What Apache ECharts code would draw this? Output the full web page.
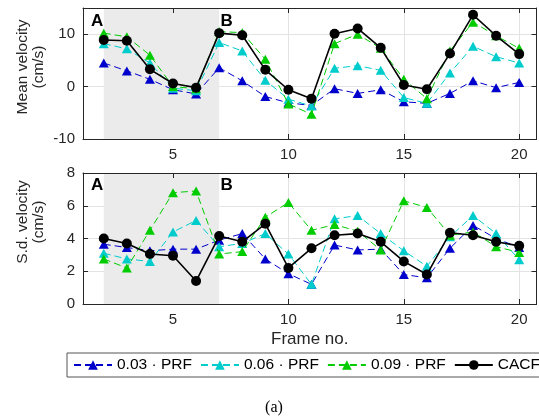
<!DOCTYPE html>
<html><head><meta charset="utf-8">
<script src="https://cdn.jsdelivr.net/npm/echarts@6/dist/echarts.min.js"></script>
<style>html,body{margin:0;padding:0;background:#fff}#c{width:539px;height:419px}</style>
</head><body><div id="c"></div>
<script>
// ---- data ----
const frames = [2,3,4,5,6,7,8,9,10,11,12,13,14,15,16,17,18,19,20];
const meanPRF003 = [4.5,3.0,1.4,-0.6,-1.4,3.6,1.1,-1.9,-3.1,-3.6,-0.4,-1.3,-0.6,-2.9,-3.2,-1.3,1.1,-0.2,0.8];
const meanPRF006 = [8.2,7.2,4.5,-0.3,-0.8,8.4,6.8,1.2,-2.4,-3.7,3.5,4.0,3.1,-2.1,-3.2,2.6,7.7,5.7,4.5];
const meanPRF009 = [10.2,9.5,6.0,0.0,-0.4,10.5,10.3,5.2,-3.3,-5.3,8.2,10.0,7.3,1.4,-2.3,6.8,12.3,9.7,7.3];
const meanCACF   = [8.9,8.75,3.3,0.6,-0.2,10.2,9.8,3.2,-0.6,-2.3,10.1,11.1,7.4,0.3,-0.5,6.3,13.7,9.7,6.2];
const sdPRF003 = [3.65,3.45,3.25,3.35,3.35,3.9,4.3,2.75,1.85,1.2,3.6,3.3,3.35,1.8,1.6,3.4,4.8,4.0,3.45];
const sdPRF006 = [3.1,2.75,2.6,4.4,5.1,3.5,3.7,4.3,3.05,1.2,5.2,5.4,4.3,3.25,2.3,4.1,5.4,4.3,2.7];
const sdPRF009 = [2.75,2.2,4.5,6.8,6.9,3.05,3.2,5.3,6.2,4.5,4.85,4.45,3.3,6.3,5.9,4.2,4.4,3.5,3.15];
const sdCACF   = [4.0,3.7,3.05,2.95,1.4,4.15,3.8,4.9,2.2,3.4,4.2,4.3,3.8,2.6,1.8,4.35,4.2,3.8,3.55];
const seriesNames = ['0.03 \u00B7 PRF','0.06 \u00B7 PRF','0.09 \u00B7 PRF','CACF'];
const xTicks = [5,10,15,20];
const meanTicks = [-10,0,10];
const sdTicks = [0,2,4,6,8];
const shadedFrames = [2,7];
const xRange = [1.1,20.75];
const meanRange = [-10,15];
const sdRange = [0,8];

// ---- styles ----
const colors = ['#0000cc','#00cccc','#00cc00','#000000'];
const FONT = '"Liberation Sans", Arial, Helvetica, sans-serif';
const AX = '#262626';
const pairs = (ys) => frames.map((f,i)=>[f, ys[i]]);

function xAxes(gridIndex){
  return [
    {type:'value', gridIndex, position:'bottom', min:xRange[0], max:xRange[1], z:0,
     axisLine:{show:true, onZero:false, lineStyle:{color:AX,width:1}},
     axisTick:{show:true, inside:true, length:5, customValues:xTicks, lineStyle:{color:AX}},
     axisLabel:{show:true, customValues:xTicks, margin:8, fontSize:15, fontFamily:FONT, color:AX},
     splitLine:{show:true, lineStyle:{color:'#e3e3e3', width:1}},
     name: gridIndex===1 ? 'Frame no.' : '', nameLocation:'middle', nameGap:27,
     nameTextStyle:{fontSize:17, fontFamily:FONT, color:AX}},
    {type:'value', gridIndex, position:'top', min:xRange[0], max:xRange[1], z:3,
     axisLine:{show:true, onZero:false, lineStyle:{color:AX,width:1}},
     axisTick:{show:true, inside:true, length:5, customValues:xTicks, lineStyle:{color:AX}},
     axisLabel:{show:false}, splitLine:{show:false}}
  ];
}
function yAxes(gridIndex, range, ticks){
  return [
    {type:'value', gridIndex, position:'left', min:range[0], max:range[1], z:0,
     axisLine:{show:true, onZero:false, lineStyle:{color:AX,width:1}},
     axisTick:{show:true, inside:true, length:5, customValues:ticks, lineStyle:{color:AX}},
     axisLabel:{show:true, customValues:ticks, margin:8, fontSize:15, fontFamily:FONT, color:AX},
     splitLine:{show:true, lineStyle:{color:'#e3e3e3', width:1}}},
    {type:'value', gridIndex, position:'right', min:range[0], max:range[1], z:3,
     axisLine:{show:true, onZero:false, lineStyle:{color:AX,width:1}},
     axisTick:{show:true, inside:true, length:5, customValues:ticks, lineStyle:{color:AX}},
     axisLabel:{show:false}, splitLine:{show:false}}
  ];
}
function lineSeries(name, ys, idx, axisIdx, withArea){
  const isC = idx===3;
  const s = {
    type:'line', name, data:pairs(ys), xAxisIndex:axisIdx, yAxisIndex:axisIdx,
    symbol: isC ? 'circle' : 'triangle',
    symbolSize: isC ? 10 : [10,9],
    showSymbol:true, animation:false, z: 2+idx*0.1,
    lineStyle:{color:colors[idx], width: isC ? 1.6 : 1, type: isC ? 'solid' : [7,4]},
    itemStyle:{color:colors[idx], borderWidth:0},
    emphasis:{disabled:true}
  };
  if (withArea){
    s.markArea = {silent:true, itemStyle:{color:'#ebebeb'},
      data:[[{xAxis:shadedFrames[0]},{xAxis:shadedFrames[1]}]]};
  }
  return s;
}
const meanData = [meanPRF003, meanPRF006, meanPRF009, meanCACF];
const sdData = [sdPRF003, sdPRF006, sdPRF009, sdCACF];
const series = [];
meanData.forEach((d,i)=>series.push(lineSeries(seriesNames[i], d, i, 0, i===0)));
sdData.forEach((d,i)=>series.push(lineSeries(seriesNames[i], d, i, 2, i===0)));

const chart = echarts.init(document.getElementById('c'), null, {renderer:'canvas'});
chart.setOption({
  backgroundColor:'#ffffff',
  animation:false,
  grid:[
    {left:83, top:8, width:453.5, height:131, containLabel:false},
    {left:83, top:173, width:453.5, height:131, containLabel:false}
  ],
  xAxis:[...xAxes(0), ...xAxes(1)],
  yAxis:[...yAxes(0, meanRange, meanTicks), ...yAxes(1, sdRange, sdTicks)],
  legend:{show:true, data:seriesNames, left:67, top:353, width:600, orient:'horizontal',
    padding:[4,6,4,6], itemWidth:38, itemHeight:12, itemGap:8,
    borderColor:'#555', borderWidth:1, backgroundColor:'#fff',
    textStyle:{fontSize:15.5, fontFamily:FONT, color:'#000'}},
  graphic:[
    {type:'text', x:30.5, y:67, rotation:Math.PI/2, z:10,
     style:{text:'Mean velocity\n(cm/s)', fontSize:15.5, fontFamily:FONT, fill:AX, align:'center', verticalAlign:'middle', lineHeight:16}},
    {type:'text', x:30.5, y:222, rotation:Math.PI/2, z:10,
     style:{text:'S.d. velocity\n(cm/s)', fontSize:15.5, fontFamily:FONT, fill:AX, align:'center', verticalAlign:'middle', lineHeight:16}},
    {type:'text', x:91, y:21.5, z:10, style:{text:'A', fontSize:17, fontWeight:'bold', fontFamily:FONT, fill:'#000', align:'left', verticalAlign:'middle'}},
    {type:'text', x:220.5, y:21.5, z:10, style:{text:'B', fontSize:17, fontWeight:'bold', fontFamily:FONT, fill:'#000', align:'left', verticalAlign:'middle'}},
    {type:'text', x:91, y:185.5, z:10, style:{text:'A', fontSize:17, fontWeight:'bold', fontFamily:FONT, fill:'#000', align:'left', verticalAlign:'middle'}},
    {type:'text', x:220.5, y:185.5, z:10, style:{text:'B', fontSize:17, fontWeight:'bold', fontFamily:FONT, fill:'#000', align:'left', verticalAlign:'middle'}},
    {type:'text', x:274, y:408, z:10, style:{text:'(a)', fontSize:16, fontFamily:'"Liberation Serif", "Times New Roman", serif', fill:'#000', align:'center', verticalAlign:'middle'}}
  ],
  series
});
</script>
</body></html>
